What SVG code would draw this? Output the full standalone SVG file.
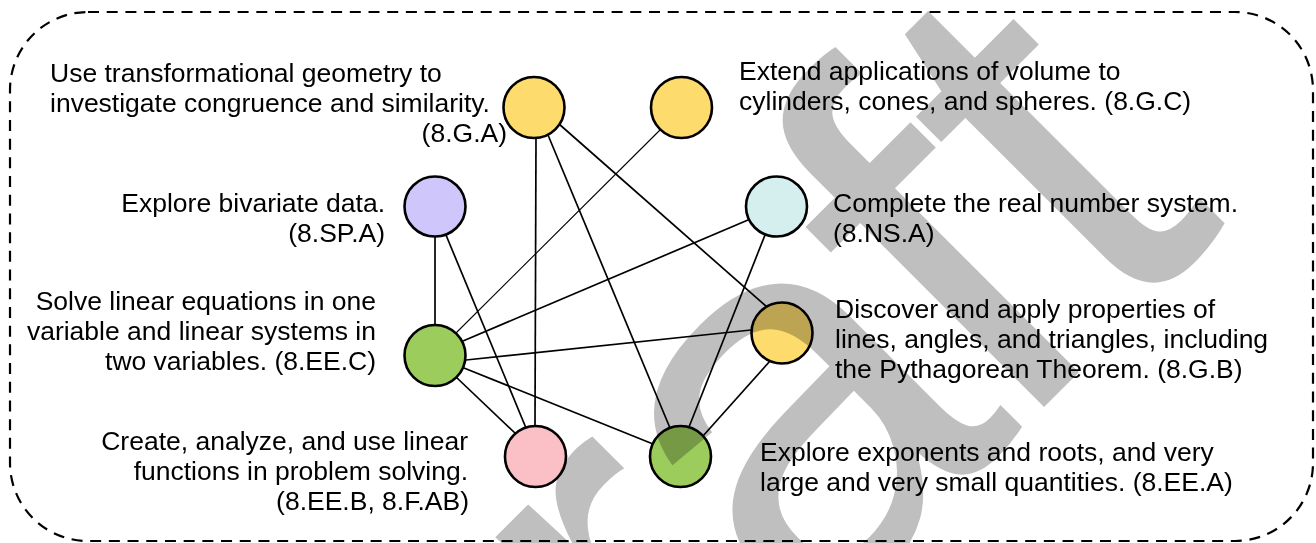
<svg xmlns="http://www.w3.org/2000/svg" width="1316" height="543" viewBox="0 0 1316 543">
<style>
.lbl{font-family:"Liberation Sans",Arial,Helvetica,sans-serif;font-size:26.5px;fill:#000}
.end{text-anchor:end}
.node{stroke:#000;stroke-width:2.6}
.edge{stroke:#000;stroke-width:1.7;fill:none}
.thin{stroke-width:1.1}
.wm{font-family:"Liberation Sans",Arial,sans-serif;font-size:560px;fill:#bfbfbf;mix-blend-mode:multiply}
</style>
<rect x="10" y="12" width="1303" height="529" rx="78" ry="78" fill="none" stroke="#000" stroke-width="2.2" stroke-dasharray="11 7.7"/>
<g id="connectors">
<line class="edge" x1="435" y1="236" x2="435" y2="325"/>
<line class="edge" x1="446" y1="235" x2="526" y2="428"/>
<line class="edge" x1="536" y1="138" x2="535" y2="426"/>
<line class="edge" x1="548" y1="135" x2="670" y2="428"/>
<line class="edge" x1="559" y1="124" x2="767" y2="307"/>
<line class="edge thin" x1="660" y1="130" x2="456" y2="333"/>
<line class="edge" x1="748" y1="220" x2="463" y2="341"/>
<line class="edge" x1="765" y1="235" x2="689" y2="427"/>
<line class="edge" x1="751" y1="330" x2="466" y2="360"/>
<line class="edge" x1="770" y1="361" x2="703" y2="436"/>
<line class="edge" x1="456" y1="377" x2="516" y2="434"/>
<line class="edge" x1="464" y1="368" x2="653" y2="444"/>
</g>
<g id="n-8GA"><ellipse class="node" cx="534" cy="107.5" rx="30.5" ry="30.5" fill="#fddb6d"/>
<text class="lbl" x="50" y="82">Use transformational geometry to</text>
<text class="lbl" x="50" y="112">investigate congruence and similarity.</text>
<text class="lbl end" x="507" y="142">(8.G.A)</text></g>
<g id="n-8GC"><ellipse class="node" cx="681.5" cy="107.5" rx="30.5" ry="30.5" fill="#fddb6d"/>
<text class="lbl" x="739" y="80">Extend applications of volume to</text>
<text class="lbl" x="739" y="110">cylinders, cones, and spheres. (8.G.C)</text></g>
<g id="n-8SPA"><ellipse class="node" cx="435" cy="206.5" rx="30.5" ry="30" fill="#cfc7fc"/>
<text class="lbl end" x="385" y="212">Explore bivariate data.</text>
<text class="lbl end" x="385" y="242">(8.SP.A)</text></g>
<g id="n-8NSA"><ellipse class="node" cx="776.5" cy="206.5" rx="30.5" ry="30" fill="#d5efef"/>
<text class="lbl" x="833" y="212">Complete the real number system.</text>
<text class="lbl" x="833" y="242">(8.NS.A)</text></g>
<g id="n-8EEC"><ellipse class="node" cx="435" cy="355.5" rx="30.5" ry="30.5" fill="#9ccc5c"/>
<text class="lbl end" x="376" y="310">Solve linear equations in one</text>
<text class="lbl end" x="376" y="340">variable and linear systems in</text>
<text class="lbl end" x="376" y="370">two variables. (8.EE.C)</text></g>
<g id="n-8GB"><ellipse class="node" cx="782" cy="333" rx="30.5" ry="30.5" fill="#fddb6d"/>
<text class="lbl" x="835" y="318">Discover and apply properties of</text>
<text class="lbl" x="835" y="348">lines, angles, and triangles, including</text>
<text class="lbl" x="835" y="378">the Pythagorean Theorem. (8.G.B)</text></g>
<g id="n-8EEB"><ellipse class="node" cx="535.5" cy="456.5" rx="30.5" ry="30.5" fill="#fbc0c6"/>
<text class="lbl end" x="468" y="450">Create, analyze, and use linear</text>
<text class="lbl end" x="468" y="480">functions in problem solving.</text>
<text class="lbl end" x="469" y="510">(8.EE.B, 8.F.AB)</text></g>
<g id="n-8EEA"><ellipse class="node" cx="680.5" cy="456.5" rx="30.5" ry="30.5" fill="#9ccc5c"/>
<text class="lbl" x="760" y="461">Explore exponents and roots, and very</text>
<text class="lbl" x="760" y="491">large and very small quantities. (8.EE.A)</text></g>
<text class="wm" transform="translate(371,1080) rotate(-45)">D<tspan dx="30">r</tspan><tspan dx="-10">a</tspan><tspan dx="-20">ft</tspan></text>
</svg>
